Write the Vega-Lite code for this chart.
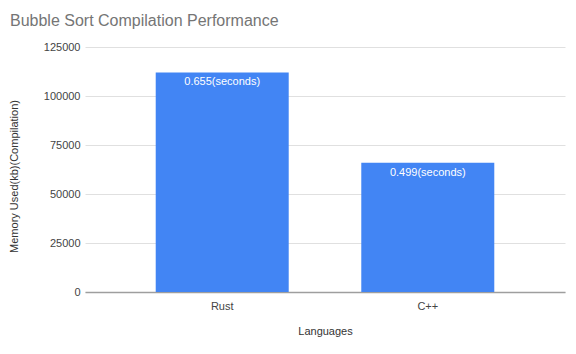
{
  "$schema": "https://vega.github.io/schema/vega-lite/v6.json",
  "autosize": "none",
  "width": 480,
  "height": 245,
  "padding": {"left": 85, "top": 47, "right": 11, "bottom": 62},
  "background": "white",
  "title": {
    "text": "Bubble Sort Compilation Performance",
    "anchor": "start",
    "frame": "group",
    "dx": -75,
    "offset": 12,
    "font": "Liberation Sans",
    "fontSize": 16,
    "fontWeight": "normal",
    "color": "#757575"
  },
  "data": {
    "values": [
      {"language": "Rust", "memory": 112000, "label": "0.655(seconds)"},
      {"language": "C++", "memory": 66000, "label": "0.499(seconds)"}
    ]
  },
  "config": {
    "view": {"stroke": null},
    "font": "Liberation Sans",
    "axis": {
      "labelFont": "Liberation Sans",
      "titleFont": "Liberation Sans",
      "labelColor": "#444444",
      "titleColor": "#333333",
      "labelFontSize": 11,
      "titleFontSize": 11,
      "titleFontWeight": "normal"
    }
  },
  "encoding": {
    "x": {
      "field": "language",
      "type": "nominal",
      "sort": null,
      "title": "Languages",
      "scale": {"paddingInner": 0.353, "paddingOuter": 0.344},
      "axis": {
        "labelAngle": 0,
        "ticks": false,
        "domainColor": "#9e9e9e",
        "domainWidth": 1.5,
        "labelPadding": 8,
        "titlePadding": 14
      }
    },
    "y": {
      "field": "memory",
      "type": "quantitative",
      "title": "Memory Used(kb)(Compilation)",
      "scale": {"domain": [0, 125000]},
      "axis": {
        "values": [0, 25000, 50000, 75000, 100000, 125000],
        "format": "d",
        "domain": false,
        "ticks": false,
        "labelPadding": 5,
        "gridColor": "#e0e0e0",
        "titleX": -66,
        "titleY": 129,
        "titleAngle": -90
      }
    }
  },
  "layer": [
    {
      "mark": {"type": "bar", "color": "#4285f4"}
    },
    {
      "mark": {
        "type": "text",
        "color": "white",
        "baseline": "middle",
        "dy": 10,
        "fontSize": 11
      },
      "encoding": {"text": {"field": "label"}}
    }
  ]
}
